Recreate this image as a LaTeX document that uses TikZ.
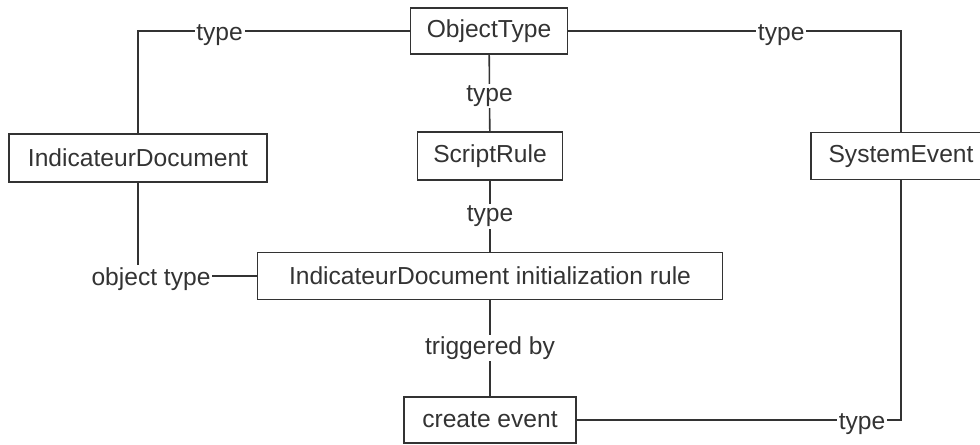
\documentclass[tikz,border=0pt]{standalone}
\usepackage{fontspec}
\setmainfont{Liberation Sans}
\usepackage{tikz}

\begin{document}
\begin{tikzpicture}[x=0.02cm, y=-0.02cm,
		box/.style={draw=black!80, line width=0.9pt, text=black!80, inner sep=0pt, font=\fontsize{14}{16}\selectfont},
		lbl/.style={fill=white, text=black!80, inner sep=1pt, font=\fontsize{14}{16}\selectfont},
		hlbl/.style={lbl, anchor=base, yshift=-9*0.02cm},
		link/.style={draw=black!80, line width=0.9pt}]
		\clip (0,0) rectangle (980,444);
		\node[box, minimum width=157*0.02cm, minimum height=46*0.02cm] (obj) at (489,31) {ObjectType};
		\node[box, minimum width=258*0.02cm, minimum height=48*0.02cm] (ind) at (138,158) {IndicateurDocument};
		\node[box, minimum width=145*0.02cm, minimum height=48*0.02cm] (scr) at (490,156) {ScriptRule};
		\node[box, minimum width=180*0.02cm, minimum height=47*0.02cm] (sys) at (901,156) {SystemEvent};
		\node[box, minimum width=465*0.02cm, minimum height=47*0.02cm] (init) at (490,276) {IndicateurDocument initialization rule};
		\node[box, minimum width=172*0.02cm, minimum height=46*0.02cm] (cre) at (490,420) {create event};
		\draw[link] (obj.west) -| node[hlbl, pos=0.35] {type} (ind.north);
		\draw[link] (obj.east) -| node[hlbl, pos=0.32] {type} (sys.north);
		\draw[link] (obj) -- node[lbl, yshift=-3*0.02cm] {type} (scr);
		\draw[link] (scr) -- node[lbl] {type} (init);
		\draw[link] (init) -- node[lbl] {triggered by} (cre);
		\draw[link] (sys.south) |- node[hlbl, pos=0.56] {type} (cre.east);
		\draw[link] (ind.south) |- node[hlbl, pos=0.5, xshift=13*0.02cm] {object type} (init.west);
\end{tikzpicture}
\end{document}
